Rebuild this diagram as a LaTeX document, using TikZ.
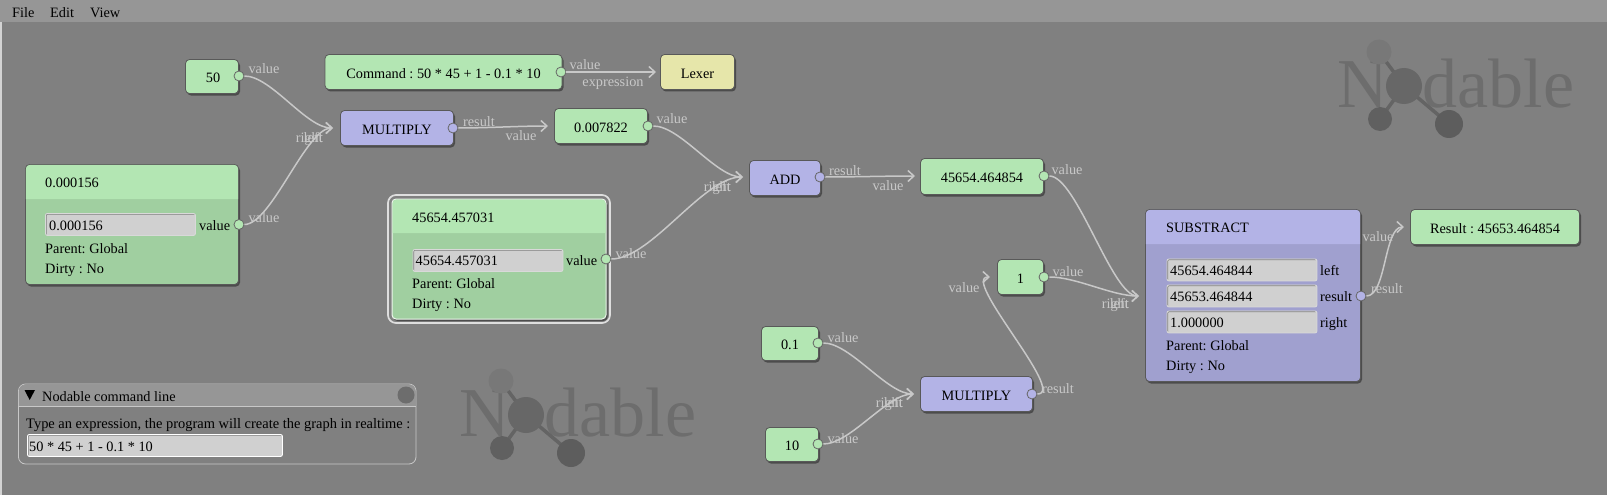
\documentclass[tikz,border=0pt]{standalone}
\usepackage{fontspec}
\setmainfont{Liberation Serif}
\usetikzlibrary{shadows,arrows.meta}
\frenchspacing
\definecolor{bgc}{HTML}{808080}
\definecolor{menuc}{HTML}{969696}
\definecolor{grn}{HTML}{B3E6B3}
\definecolor{grnb}{HTML}{A0CFA0}
\definecolor{pur}{HTML}{B3B3E6}
\definecolor{purb}{HTML}{A0A0CF}
\definecolor{yel}{HTML}{E6E6AA}
\definecolor{wirec}{HTML}{C8C8C8}
\definecolor{inp}{HTML}{D0D0D0}
\tikzset{
  txt/.style={font=\fontsize{14.3}{17}\selectfont\frenchspacing,text=black,inner sep=0pt},
  btxt/.style={txt,anchor=base west},
  lab/.style={txt,text=wirec,anchor=base},
  box/.style={rectangle,rounded corners=4pt,draw=black!65,line width=.8pt,txt,anchor=north west,outer sep=0pt,
     text height=12pt,text depth=0pt,
     drop shadow={shadow xshift=1.5pt,shadow yshift=-2pt,fill=black,opacity=.4}},
  gbox/.style={box,fill=grn},
  pbox/.style={box,fill=pur},
  ybox/.style={box,fill=yel},
  gport/.style={circle,draw=black!60,line width=.8pt,fill=grn,minimum size=10pt,inner sep=0pt},
  pport/.style={gport,fill=pur},
  field/.style={rectangle,rounded corners=2pt,fill=inp,draw=white!85!black,line width=.9pt,anchor=north west,inner sep=0pt,
     path picture={\draw[black!50,line width=2.4pt] (path picture bounding box.south west) -- (path picture bounding box.north west) -- (path picture bounding box.north east);}},
  wire/.style={draw=wirec,line width=1.5pt,-{Straight Barb[length=6pt,width=11pt,line width=1.5pt]}},
  logotxt/.style={font=\fontsize{70}{70}\selectfont,anchor=base west,inner sep=0pt},
}
\begin{document}
\begin{tikzpicture}[x=1pt,y=-1pt]
\useasboundingbox (0,0) rectangle (1607,495);
\fill[bgc] (0,0) rectangle (1607,495);
\fill[menuc] (0,0) rectangle (1607,22);
\fill[white!65!bgc] (0,22) rectangle (1.5,495);
\node[btxt] (mfile) at (12,18) {File};
\node[btxt] (medit) at (50,18) {Edit};
\node[btxt] (mview) at (90,18) {View};
% logos
\foreach \dx/\dy/\nm in {0/0/a,-878/329/b}{
 \begin{scope}[shift={(\dx,\dy)}]
  \node[logotxt,text=black!15!bgc] (logo\nm) at (1337,107) {N\phantom{o}dable};
  \draw[line width=3.5pt,draw=black!22!bgc] (1379,52) -- (1404,86) -- (1380,119);
  \draw[line width=3.5pt,draw=black!22!bgc] (1404,86) -- (1449,124);
  \fill[black!6!bgc] (1379,52) circle (12.5);
  \fill[black!20!bgc] (1404,86) circle (18);
  \fill[black!25!bgc] (1380,119) circle (12);
  \fill[black!27!bgc] (1449,124) circle (14);
 \end{scope}
}
% simple nodes
\node[gbox,minimum width=53pt,minimum height=34pt] (n50) at (185.5,59.5) {\hspace{2pt}50};
\node[gport] (p50) at (239,76) {};
\node[gbox,minimum width=237pt,minimum height=35pt] (ncmd) at (325,54.5) {Command : 50 * 45 + 1 - 0.1 * 10};
\node[gport] (pcmd) at (561,72) {};
\node[ybox,minimum width=74pt,minimum height=35pt] (nlex) at (660.5,54.5) {Lexer};
\node[pbox,minimum width=113pt,minimum height=35pt] (nmul) at (340.5,110.5) {MULTIPLY};
\node[pport] (pmul) at (453,128) {};
\node[gbox,minimum width=93pt,minimum height=35pt] (nres1) at (554.5,108.5) {0.007822};
\node[gport] (pres1) at (648,126) {};
\node[pbox,minimum width=71pt,minimum height=35pt] (nadd) at (749.5,160.5) {ADD};
\node[pport] (padd) at (820,177) {};
\node[gbox,minimum width=123pt,minimum height=36pt] (nres2) at (920.5,158.5) {45654.464854};
\node[gport] (pres2) at (1044,176) {};
\node[gbox,minimum width=46pt,minimum height=35pt] (none) at (997.5,259.5) {1};
\node[gport] (pone) at (1044,277) {};
\node[gbox,minimum width=57pt,minimum height=34pt] (nzero) at (761.5,326.5) {0.1};
\node[gport] (pzero) at (818,343) {};
\node[gbox,minimum width=53pt,minimum height=34pt] (nten) at (765.5,427.5) {10};
\node[gport] (pten) at (818,444) {};
\node[pbox,minimum width=112pt,minimum height=35pt] (nmul2) at (920.5,376.5) {MULTIPLY};
\node[pport] (pmul2) at (1032,394) {};
\node[gbox,minimum width=169pt,minimum height=35pt] (nresult) at (1410.5,209.5) {Result : 45653.464854};
% table node A
\node[box,fill=grnb,minimum width=213pt,minimum height=120pt] (ta) at (25.5,164.5) {};
\fill[grn] (25.9,199) [rounded corners=4pt] -- (25.9,164.9) -- (238.1,164.9) [sharp corners] -- (238.1,199) -- cycle;
\node[btxt] (tah) at (45,187) {0.000156};
\node[field,minimum width=150pt,minimum height=22pt] (taf) at (45,213) {};
\node[btxt] (tav) at (49,230) {0.000156};
\node[btxt] (tal) at (199,230) {value};
\node[btxt] (tap) at (45,253) {Parent: Global};
\node[btxt] (tad) at (45,273) {Dirty : No};
\node[gport] (pta) at (239,224.5) {};
% table node B (selected)
\node[rectangle,rounded corners=8pt,draw=wirec!60!white,line width=1.7pt,minimum width=222pt,minimum height=128pt,anchor=north west,outer sep=0pt] (tbo) at (388,195) {};
\node[box,fill=grnb,draw=white!80!grnb,line width=1pt,minimum width=214pt,minimum height=120pt] (tb) at (392,199) {};
\fill[grn] (392.5,233) [rounded corners=4pt] -- (392.5,199.5) -- (605.5,199.5) [sharp corners] -- (605.5,233) -- cycle;
\node[btxt] (tbh) at (412,222) {45654.457031};
\node[field,minimum width=150pt,minimum height=22pt] (tbf) at (412.5,249) {};
\node[btxt] (tbv) at (415.5,265) {45654.457031};
\node[btxt] (tbl) at (566,265) {value};
\node[btxt] (tbp) at (412,288) {Parent: Global};
\node[btxt] (tbd) at (412,308) {Dirty : No};
\node[gport] (ptb) at (606,259) {};
% table node C
\node[box,fill=purb,minimum width=215pt,minimum height=172pt] (tc) at (1145.5,209.5) {};
\fill[pur] (1145.9,244) [rounded corners=4pt] -- (1145.9,209.9) -- (1360.1,209.9) [sharp corners] -- (1360.1,244) -- cycle;
\node[btxt] (tch) at (1166,232) {SUBSTRACT};
\node[field,minimum width=150pt,minimum height=22pt] (tcf1) at (1166.5,258.5) {};
\node[field,minimum width=150pt,minimum height=22pt] (tcf2) at (1166.5,284.5) {};
\node[field,minimum width=150pt,minimum height=22pt] (tcf3) at (1166.5,310.5) {};
\node[btxt] (tcv1) at (1170,275) {45654.464844};
\node[btxt] (tcv2) at (1170,301) {45653.464844};
\node[btxt] (tcv3) at (1170,327) {1.000000};
\node[btxt] (tcl1) at (1320,275) {left};
\node[btxt] (tcl2) at (1320,301) {result};
\node[btxt] (tcl3) at (1320,327) {right};
\node[btxt] (tcp) at (1166,350) {Parent: Global};
\node[btxt] (tcd) at (1166,370) {Dirty : No};
\node[pport] (ptc) at (1361,296) {};
% console
\node[rectangle,rounded corners=7pt,fill=bgc,draw=wirec,line width=.8pt,minimum width=397.5pt,minimum height=80pt,anchor=north west,outer sep=0pt] (con) at (18.5,384) {};
\fill[menuc] (18.9,406) [rounded corners=7pt] -- (18.9,384.4) -- (415.6,384.4) [sharp corners] -- (415.6,406) -- cycle;
\draw[wirec,line width=.8pt] (18.5,406) -- (416,406);
\fill[black] (24.5,390) -- (35,390) -- (29.7,400) -- cycle;
\fill[black!15!bgc] (406,395) circle (8.5);
\node[btxt] (cont) at (42,401) {Nodable command line};
\node[btxt,font=\fontsize{14.45}{17}\selectfont] (conq) at (26,428) {Type an expression, the program will create the graph in realtime :};
\node[field,draw=white,minimum width=255pt,minimum height=22pt] (conf) at (27,434) {};
\node[btxt] (conv) at (29,451) {50 * 45 + 1 - 0.1 * 10};
% connector ends
\coordinate (inmul) at (333,128);
\coordinate (inlex) at (656,72);
\coordinate (inres1) at (548,126);
\coordinate (inadd) at (743,177);
\coordinate (inres2) at (915,176);
\coordinate (insub) at (1139,296);
\coordinate (inmul2) at (914,394);
\coordinate (inone) at (990,277);
\coordinate (inres) at (1404,227);
% connectors
\draw[wire] (p50.east) .. controls +(27,0) and +(-27,0) .. (inmul);
\draw[wire] (pta.east) .. controls +(27,0) and +(-27,0) .. (inmul);
\draw[wire] (pcmd.east) .. controls +(30,0) and +(-30,0) .. (inlex);
\draw[wire] (pmul.east) .. controls +(30,0) and +(-30,0) .. (inres1);
\draw[wire] (pres1.east) .. controls +(27,0) and +(-27,0) .. (inadd);
\draw[wire] (ptb.east) .. controls +(40,0) and +(-40,0) .. (inadd);
\draw[wire] (padd.east) .. controls +(30,0) and +(-30,0) .. (inres2);
\draw[wire] (pres2.east) .. controls +(27,0) and +(-27,0) .. (insub);
\draw[wire] (pone.east) .. controls +(27,0) and +(-27,0) .. (insub);
\draw[wire] (pzero.east) .. controls +(27,0) and +(-27,0) .. (inmul2);
\draw[wire] (pten.east) .. controls +(27,0) and +(-27,0) .. (inmul2);
\draw[wire] (pmul2.east) .. controls +(30,0) and +(-30,0) .. (inone);
\draw[wire] (ptc.east) .. controls +(20,0) and +(-20,0) .. (inres);
% connector labels
\node[lab] (l1) at (264,74) {value};
\node[lab] (l2) at (264,222) {value};
\node[lab,anchor=base east] (l3) at (323,142) {right};
\node[lab,anchor=base east] (l4) at (323,142) {left};
\node[lab] (l5) at (585,70) {value};
\node[lab] (l6) at (613,86) {expression};
\node[lab] (l7) at (479,126) {result};
\node[lab] (l8) at (521,140) {value};
\node[lab] (l9) at (672,124) {value};
\node[lab] (l10) at (631,258) {value};
\node[lab,anchor=base east] (l11) at (731,191) {right};
\node[lab,anchor=base east] (l12) at (731,191) {left};
\node[lab] (l13) at (845,175) {result};
\node[lab] (l14) at (888,190) {value};
\node[lab] (l15) at (1067,174) {value};
\node[lab] (l16) at (1068,276) {value};
\node[lab,anchor=base east] (l17) at (1129,308) {right};
\node[lab,anchor=base east] (l18) at (1129,308) {left};
\node[lab] (l19) at (964,292) {value};
\node[lab] (l20) at (843,342) {value};
\node[lab] (l21) at (843,443) {value};
\node[lab,anchor=base east] (l22) at (903,407) {right};
\node[lab,anchor=base east] (l23) at (903,407) {left};
\node[lab] (l24) at (1058,393) {result};
\node[lab] (l25) at (1387,293) {result};
\node[lab] (l26) at (1378,241) {value};
\end{tikzpicture}
\end{document}
